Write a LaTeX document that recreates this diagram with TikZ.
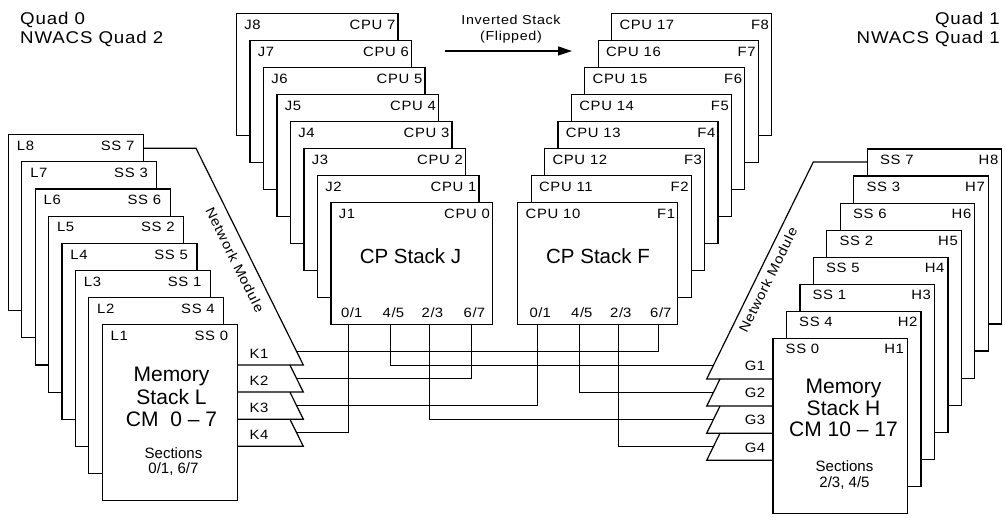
\documentclass[tikz,border=0pt]{standalone}
\usepackage{fontspec}
\setmainfont{Liberation Sans}
\newfontfamily\lblfont[FakeStretch=1.1, LetterSpace=5]{Liberation Sans}
\usetikzlibrary{arrows.meta,calc}
\tikzset{
  card/.style={draw, fill=white, line width=1.2pt, inner sep=0pt, outer sep=0pt, anchor=north west},
  lbl/.style={font=\lblfont\fontsize{13.5}{16}\selectfont, inner sep=0pt, outer sep=0pt},
  arrlbl/.style={font=\lblfont\fontsize{13}{16}\selectfont, inner sep=0pt},
  corner/.style={font=\lblfont\fontsize{17}{19}\selectfont, inner sep=0pt},
  big/.style={font=\fontsize{20.5}{23}\selectfont, inner sep=0pt},
  mem/.style={font=\fontsize{21}{23}\selectfont, inner sep=0pt},
  sect/.style={font=\fontsize{15}{16}\selectfont, inner sep=0pt},
  wire/.style={line width=1.2pt, line join=miter},
}
\begin{document}
\begin{tikzpicture}[x=1pt,y=-1pt]
\useasboundingbox (0,0) rectangle (1005,518);

% ---- CP stack J
\foreach \k in {8,7,...,1}{
  \pgfmathsetmacro\px{236.4+(8-\k)*13.5}
  \pgfmathsetmacro\py{13.4+(8-\k)*27}
  \pgfmathtruncatemacro\c{\k-1}
  \node[card, minimum width=161.5pt, minimum height=122pt] (J\k) at (\px,\py) {};
  \node[lbl, anchor=base west] (Ja\k) at ($(J\k.north west)+(8,15.8)$) {J\k};
  \node[lbl, anchor=base east] (Jb\k) at ($(J\k.north east)+(-2.5,15.8)$) {CPU \c};
}
% ---- CP stack F
\foreach \k in {8,7,...,1}{
  \pgfmathsetmacro\px{611.5-(8-\k)*13.4}
  \pgfmathsetmacro\py{13.4+(8-\k)*27}
  \pgfmathtruncatemacro\c{\k-1}
  \node[card, minimum width=160pt, minimum height=122pt] (F\k) at (\px,\py) {};
  \node[lbl, anchor=base west] (Fa\k) at ($(F\k.north west)+(8,15.8)$) {CPU 1\c};
  \node[lbl, anchor=base east] (Fb\k) at ($(F\k.north east)+(-2.5,15.8)$) {F\k};
}
% ---- Memory stack L
\foreach \k/\s in {8/7,7/3,6/6,5/2,4/5,3/1,2/4,1/0}{
  \pgfmathsetmacro\px{8.4+(8-\k)*13.39}
  \pgfmathsetmacro\py{134.7+(8-\k)*27.14}
  \node[card, minimum width=135pt, minimum height=176pt] (L\k) at (\px,\py) {};
  \node[lbl, anchor=base west] (La\k) at ($(L\k.north west)+(8.5,15.8)$) {L\k};
  \node[lbl, anchor=base east] (Lb\k) at ($(L\k.north east)+(-9,15.8)$) {SS \s};
}
% ---- Memory stack H
\foreach \k/\s in {8/7,7/3,6/6,5/2,4/5,3/1,2/4,1/0}{
  \pgfmathsetmacro\px{867.3-(8-\k)*13.47}
  \pgfmathsetmacro\py{149+(8-\k)*27.1}
  \node[card, minimum width=134.5pt, minimum height=175pt] (H\k) at (\px,\py) {};
  \node[lbl, anchor=base west] (Ha\k) at ($(H\k.north west)+(12.7,15.3)$) {SS \s};
  \node[lbl, anchor=base east] (Hb\k) at ($(H\k.north east)+(-3.5,15.3)$) {H\k};
}

% ---- big texts
\node[big, anchor=base] (cpJ) at (410.5,264) {CP Stack J};
\node[big, anchor=base] (cpF) at (598,264) {CP Stack F};
\node[mem, anchor=base] (mL1) at (171.5,381.5) {Memory};
\node[mem, anchor=base] (mL2) at (171.5,404.8) {Stack L};
\node[mem, anchor=base] (mL3) at (171.5,426.5) {CM\ \ 0 – 7};
\node[sect, anchor=base] (sL1) at (173.5,458.7) {Sections};
\node[sect, anchor=base] (sL2) at (173.5,473.7) {0/1, 6/7};
\node[mem, anchor=base] (mH1) at (843.5,393.5) {Memory};
\node[mem, anchor=base] (mH2) at (843.5,415.8) {Stack H};
\node[mem, anchor=base] (mH3) at (843.5,436.8) {CM 10 – 17};
\node[sect, anchor=base] (sH1) at (844.5,472) {Sections};
\node[sect, anchor=base] (sH2) at (844.5,488) {2/3, 4/5};

% ---- ports
\foreach \n/\o/\t in {01/17.8/0\slash 1,45/59.5/4\slash 5,23/98.5/2\slash 3,67/140.5/6\slash 7}{
  \coordinate (J\n) at ($(J1.south west)+(\o,0)$);
  \node[lbl, anchor=base] (Jp\n) at ($(J\n)+(3,-6.8)$) {\t};
}
\foreach \n/\o/\t in {01/20/0\slash 1,45/61.6/4\slash 5,23/100.6/2\slash 3,67/140.6/6\slash 7}{
  \coordinate (F\n) at ($(F1.south west)+(\o,0)$);
  \node[lbl, anchor=base] (Fp\n) at ($(F\n)+(2.5,-6.8)$) {\t};
}

% ---- network module L
\coordinate (nmA) at (196,148.3);
\coordinate (nmB) at (303.3,365);
\draw[wire] ($(L8.north east)+(0,13.6)$) -- (nmA) -- (nmB) -- (nmB -| L1.east);
\foreach \i in {1,2,3,4}{
  \coordinate (kt\i) at (289.9,{337.9+27.1*(\i-1)});
  \coordinate (kb\i) at (303.3,{365+27.1*(\i-1)});
  \coordinate (km\i) at ($(kt\i)!0.5!(kb\i)$);
  \node[lbl, anchor=base] (K\i) at (259,{358.5+27.1*(\i-1)}) {K\i};
}
\foreach \i in {2,3,4}{
  \draw[wire] (kt\i) -- (kb\i) -- (kb\i -| L1.east);
}
\node[lbl, rotate=-63.65] (nmLt) at (235,260) {Network Module};

% ---- network module H
\coordinate (gmA) at (813.3,162);
\coordinate (gmB) at (706.7,379);
\draw[wire] ($(H8.north west)+(0,13)$) -- (gmA) -- (gmB) -- (gmB -| H1.west);
\foreach \i in {1,2,3,4}{
  \coordinate (gt\i) at (720,{351.9+27.1*(\i-1)});
  \coordinate (gb\i) at (706.7,{379+27.1*(\i-1)});
  \coordinate (gm\i) at ($(gt\i)!0.5!(gb\i)$);
  \node[lbl, anchor=base] (G\i) at (755,{370.8+27.1*(\i-1)}) {G\i};
}
\foreach \i in {2,3,4}{
  \draw[wire] (gt\i) -- (gb\i) -- (gb\i -| H1.west);
}
\node[lbl, rotate=63.8] (nmRt) at (768,280) {Network Module};

% ---- wires
\draw[wire] (km1) -| (F67);
\draw[wire] (km2) -| (J67);
\draw[wire] (km3) -| (F01);
\draw[wire] (km4) -| (J01);
\draw[wire] (J45) |- (gm1);
\draw[wire] (F45) |- (gm2);
\draw[wire] (J23) |- (gm3);
\draw[wire] (F23) |- (gm4);

% ---- inverted stack arrow
\coordinate (arrA) at (445,51);
\coordinate (arrB) at (572,51);
\draw[wire, -{Triangle[length=14pt,width=9pt]}] (arrA) -- (arrB);
\node[arrlbl, anchor=base] (inv1) at (511,25) {Inverted Stack};
\node[arrlbl, anchor=base] (inv2) at (511,40.7) {(Flipped)};

% ---- corner titles
\node[corner, anchor=base west] (q0a) at (20,24.3) {Quad 0};
\node[corner, anchor=base west] (q0b) at (20,43.3) {NWACS Quad 2};
\node[corner, anchor=base east] (q1a) at (1000,24.3) {Quad 1};
\node[corner, anchor=base east] (q1b) at (1000,43.3) {NWACS Quad 1};
\end{tikzpicture}
\end{document}
